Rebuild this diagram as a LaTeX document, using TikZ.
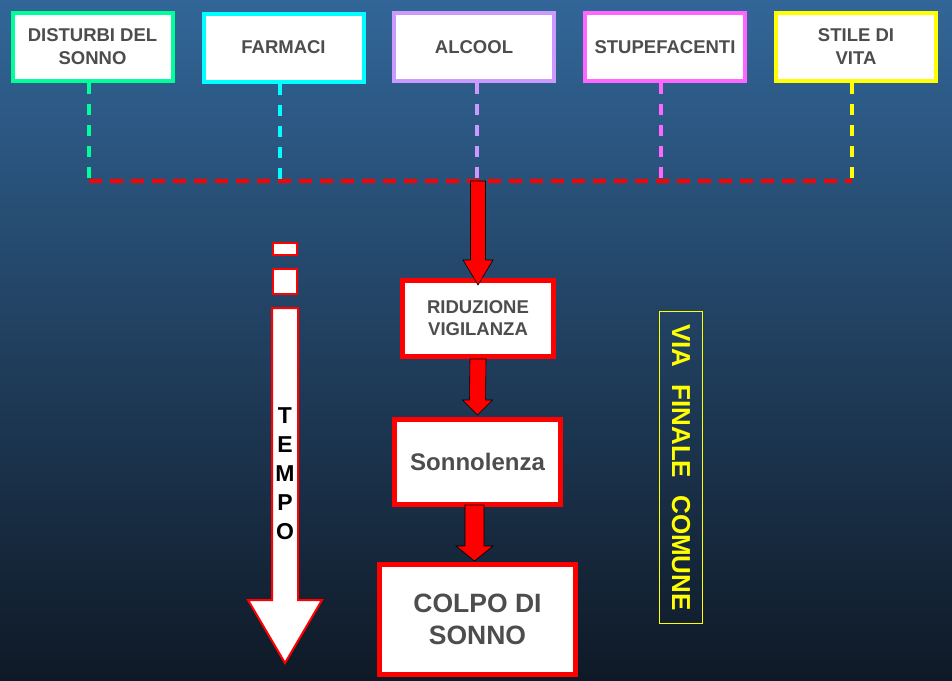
\documentclass[tikz,border=0pt]{standalone}
\usepackage{fontspec}
\setmainfont{Liberation Sans}
\usetikzlibrary{calc}
\definecolor{bgtop}{RGB}{50,102,152}
\definecolor{bgmid}{RGB}{34,64,98}
\definecolor{bgbot}{RGB}{15,25,38}
\definecolor{txtgray}{RGB}{77,77,77}
\definecolor{cgreen}{RGB}{0,255,153}
\definecolor{ccyan}{RGB}{0,255,255}
\definecolor{clav}{RGB}{204,153,255}
\definecolor{cpink}{RGB}{255,102,255}
\definecolor{cyel}{RGB}{255,255,0}
\tikzset{
  topbox/.style={draw=#1, line width=4pt, fill=white, minimum width=160pt, minimum height=68pt,
    inner sep=0pt, align=center, font=\fontsize{18.5}{23}\selectfont\bfseries, text=txtgray},
  redbox/.style={draw=red, line width=5pt, fill=white, inner sep=0pt, align=center, text=txtgray},
  vdash/.style={draw=#1, line width=3.5pt, dash pattern=on 11pt off 10pt},
  hdash/.style={draw=red, line width=4pt, dash pattern=on 13pt off 8pt},
  barrowsty/.style={fill=red, draw=black, line width=0.6pt, line join=miter},
  tempobox/.style={fill=white, draw=red, line width=2pt},
}
\newcommand\blockarr[5]{%
  \draw[barrowsty] ($(#1)+(-#3,0)$) -- ($(#2)+(-#3,-#5)$) -- ($(#2)+(-#4,-#5)$) -- (#2)
    -- ($(#2)+(#4,-#5)$) -- ($(#2)+(#3,-#5)$) -- ($(#1)+(#3,0)$) -- cycle;}
\begin{document}
\begin{tikzpicture}[x=1pt,y=-1pt]
\shade[top color=bgtop, middle color=bgmid, bottom color=bgbot] (0,0) rectangle (952,680);
\useasboundingbox (0,0) rectangle (952,680);

% top boxes
\node[topbox=cgreen] (b1) at (92.5,47) {DISTURBI DEL\\SONNO};
\node[topbox=ccyan]  (b2) at (283.5,47.5) {FARMACI};
\node[topbox=clav]   (b3) at (474,47) {ALCOOL};
\node[topbox=cpink]  (b4) at (665,47) {STUPEFACENTI};
\node[topbox=cyel]   (b5) at (856,47) {STILE DI\\VITA};

% junction coordinates
\coordinate (j1) at (89,181);
\coordinate (j2) at (280,181);
\coordinate (j3) at (477,181);
\coordinate (j4) at (661,181);
\coordinate (j5) at (852,181);
\coordinate (jc) at (478,181);

\draw[vdash=cgreen] (b1.south -| j1) -- (j1);
\draw[vdash=ccyan]  (b2.south -| j2) -- (j2);
\draw[vdash=clav]   (b3.south -| j3) -- (j3);
\draw[vdash=cpink]  (b4.south -| j4) -- (j4);
\draw[vdash=cyel]   (b5.south -| j5) -- (j5);
\draw[hdash] (j1) -- (j5);

% main chain
\node[redbox, minimum width=151pt, minimum height=76pt, font=\fontsize{18.5}{22}\selectfont\bfseries]
  (riduz) at (478,318.5) {RIDUZIONE\\VIGILANZA};
\node[redbox, minimum width=166pt, minimum height=85pt, font=\fontsize{24}{28}\selectfont\bfseries]
  (sonn) at (477.5,462) {Sonnolenza};
\node[redbox, minimum width=196pt, minimum height=110pt, font=\fontsize{26.5}{31.5}\selectfont\bfseries]
  (colpo) at (477.5,619.5) {COLPO DI\\SONNO};

\coordinate (t1) at ($(riduz.north)+(0,7)$);
\blockarr{jc}{t1}{7.5}{15}{25}
\coordinate (s2) at ($(riduz.south)+(0,0)$);
\coordinate (t2) at ($(sonn.north)+(0,-2)$);
\blockarr{s2}{t2}{8}{15}{15}
\coordinate (s3) at ($(sonn.south)+(-3,-2)$);
\coordinate (t3) at ($(colpo.north)+(-3,-1)$);
\blockarr{s3}{t3}{9.5}{18.5}{15}

% TEMPO arrow
\node[tempobox, minimum width=24pt, minimum height=12pt, inner sep=0pt] (tr1) at (285,249) {};
\node[tempobox, minimum width=24pt, minimum height=25pt, inner sep=0pt] (tr2) at (285,281.5) {};
\coordinate (tt) at (285,663);
\draw[tempobox, line join=miter] (272,308) -- (298,308) -- (298,600) -- (322,600) -- (tt)
  -- (248,600) -- (272,600) -- cycle;
\node[align=center, text=black, font=\fontsize{23}{29}\selectfont\bfseries, inner sep=0pt]
  (tempo) at (285,474) {T\\E\\M\\P\\O};

% VIA FINALE COMUNE
\node[draw=cyel, line width=1pt, minimum width=43pt, minimum height=312pt, inner sep=0pt] (vfbox) at (681,467.5) {};
\node[rotate=-90, text=cyel, font=\fontsize{26}{30}\selectfont\bfseries, inner sep=0pt]
  (vf) at (vfbox.center) {VIA\hspace{17pt}FINALE\hspace{17pt}COMUNE};
\end{tikzpicture}
\end{document}
